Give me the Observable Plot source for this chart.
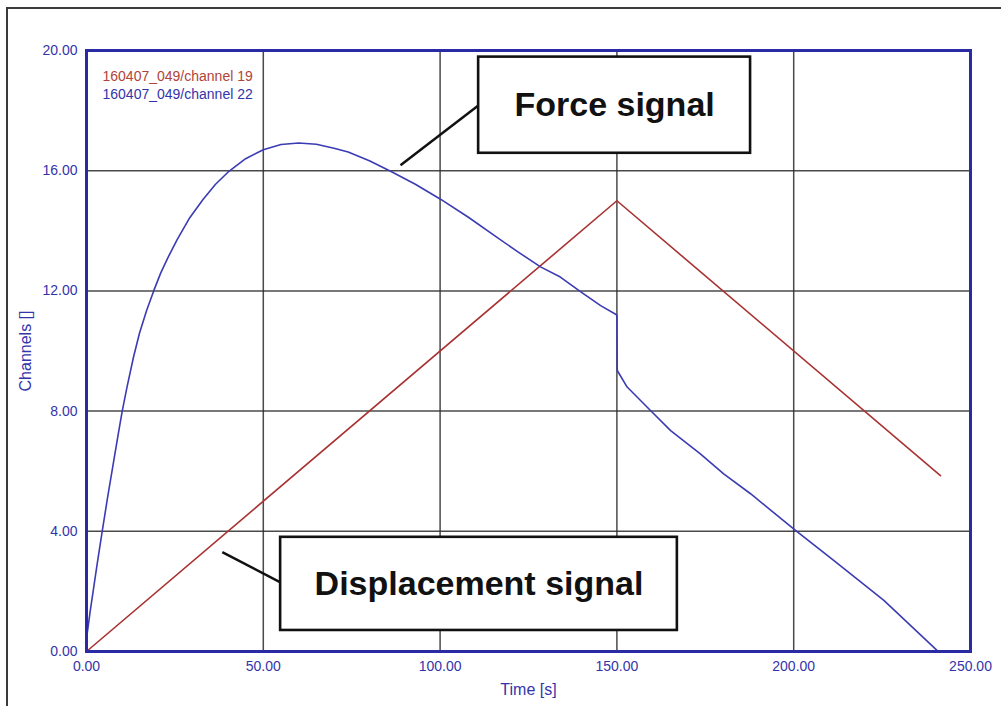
<!DOCTYPE html>
<html>
<head>
<meta charset="utf-8">
<script src="https://cdn.jsdelivr.net/npm/d3@7"></script>
<script src="https://cdn.jsdelivr.net/npm/@observablehq/plot@0.6"></script>
<style>
  html, body { margin: 0; padding: 0; background: white; }
  #wrap { position: relative; width: 1001px; height: 706px; overflow: hidden; }
  #outer { position: absolute; left: 6px; top: 7px; width: 1010px; height: 720px;
           border-top: 2px solid #3a3a3a; border-left: 2px solid #3a3a3a; pointer-events: none; }
</style>
</head>
<body>
<div id="wrap"><div id="outer"></div></div>
<script>
// Tick values
const xTicks = [0, 50, 100, 150, 200, 250];
const yTicks = [0, 4, 8, 12, 16, 20];
const xGrid = [50, 100, 150, 200];
const yGrid = [4, 8, 12, 16];

// Channel 19 (displacement): time [s], value
const ch19Time  = [0, 150, 241.5];
const ch19Value = [0, 15, 5.85];

// Channel 22 (force): time [s], value
const ch22Time  = [0, 0.2, 1, 2, 3, 4.44, 6, 7.5, 9, 10.1, 11.5, 13.3, 15, 17, 19, 21, 23, 25.6, 29, 33, 36.5, 40, 45, 50, 55, 60, 65, 70, 74, 80, 86, 93, 100, 108, 116, 122, 128.4, 134, 140, 145.4, 150, 150.1, 152.9, 159.5, 165.2, 173.6, 180.2, 187.8, 200.5, 211.3, 225.5, 240.6];
const ch22Value = [0, 0.6, 1.3, 2.1, 2.9, 4.0, 5.15, 6.2, 7.25, 8.0, 8.82, 9.8, 10.6, 11.35, 12.0, 12.6, 13.1, 13.7, 14.4, 15.05, 15.55, 15.95, 16.4, 16.7, 16.87, 16.92, 16.88, 16.75, 16.62, 16.33, 15.98, 15.55, 15.06, 14.45, 13.79, 13.3, 12.8, 12.46, 11.95, 11.51, 11.2, 9.35, 8.8, 8.02, 7.35, 6.58, 5.91, 5.25, 4.03, 3.03, 1.7, 0.03];

const legendLabels = ["160407_049/channel 19", "160407_049/channel 22"];

// Callout annotations (in data units)
const calloutLabels = ["Force signal", "Displacement signal"];
const calloutX1 = [110.9, 54.9];
const calloutX2 = [187.8, 167.1];
const calloutY1 = [16.58, 0.70];
const calloutY2 = [19.78, 3.80];
const leaderFromX = [88.8, 38.4];
const leaderFromY = [16.18, 3.31];
const leaderToX = [110.9, 54.7];
const leaderToY = [18.18, 2.31];

const ch19 = ch19Time.map((t, i) => ({t, v: ch19Value[i]}));
const ch22 = ch22Time.map((t, i) => ({t, v: ch22Value[i]}));
const callouts = calloutLabels.map((label, i) => ({
  label, x1: calloutX1[i], x2: calloutX2[i], y1: calloutY1[i], y2: calloutY2[i],
  lx1: leaderFromX[i], ly1: leaderFromY[i], lx2: leaderToX[i], ly2: leaderToY[i]
}));

const axisBlue = "#3434aa";
const frameBlue = "#2a2aa4";
const lineBlue = "#3b3bb4";
const lineRed = "#a83232";

const chart = Plot.plot({
  width: 1001,
  height: 706,
  marginLeft: 86,
  marginRight: 31,
  marginTop: 50,
  marginBottom: 55,
  style: { fontFamily: "'Liberation Sans', Arial, sans-serif", background: "transparent" },
  x: { domain: [0, 250] },
  y: { domain: [0, 20] },
  marks: [
    Plot.gridX(xGrid, { stroke: "#2a2a2a", strokeOpacity: 0.85, strokeWidth: 1.5 }),
    Plot.gridY(yGrid, { stroke: "#2a2a2a", strokeOpacity: 0.85, strokeWidth: 1.5 }),
    Plot.line(ch19, { x: "t", y: "v", stroke: lineRed, strokeWidth: 1.6 }),
    Plot.line(ch22, { x: "t", y: "v", stroke: lineBlue, strokeWidth: 1.6 }),
    Plot.link(callouts, { x1: "lx1", y1: "ly1", x2: "lx2", y2: "ly2", stroke: "#111", strokeWidth: 2.5 }),
    Plot.rect(callouts, { x1: "x1", x2: "x2", y1: "y1", y2: "y2", fill: "white", stroke: "#111", strokeWidth: 2.6 }),
    Plot.text(callouts, { x: d => (d.x1 + d.x2) / 2, y: d => (d.y1 + d.y2) / 2, text: "label",
      fontSize: 34, fontWeight: "bold", fill: "#111", lineAnchor: "middle", textAnchor: "middle",
      fontFamily: "'Liberation Sans', Arial, sans-serif" }),
    Plot.axisX({ ticks: xTicks, tickSize: 0, tickPadding: 10, tickFormat: d => d.toFixed(2),
      fontSize: 14, fill: axisBlue, label: null }),
    Plot.axisY({ ticks: yTicks, tickSize: 0, tickPadding: 9, tickFormat: d => d.toFixed(2),
      fontSize: 14, fill: axisBlue, label: null }),
    Plot.text(["Time [s]"], { frameAnchor: "bottom", dy: 38, lineAnchor: "middle", textAnchor: "middle",
      fontSize: 16, fill: axisBlue }),
    Plot.text(["Channels []"], { frameAnchor: "left", dx: -61, rotate: -90, lineAnchor: "middle",
      textAnchor: "middle", fontSize: 16, fill: axisBlue }),
    Plot.text([legendLabels[0]], { frameAnchor: "top-left", dx: 16, dy: 26, lineAnchor: "middle",
      textAnchor: "start", fontSize: 14, fill: "#b0443a" }),
    Plot.text([legendLabels[1]], { frameAnchor: "top-left", dx: 16, dy: 44.5, lineAnchor: "middle",
      textAnchor: "start", fontSize: 14, fill: axisBlue }),
    Plot.frame({ stroke: frameBlue, strokeWidth: 3 })
  ]
});
chart.style.position = "absolute";
chart.style.left = "0px";
chart.style.top = "0px";
document.getElementById("wrap").insertBefore(chart, document.getElementById("outer"));
</script>
</body>
</html>
